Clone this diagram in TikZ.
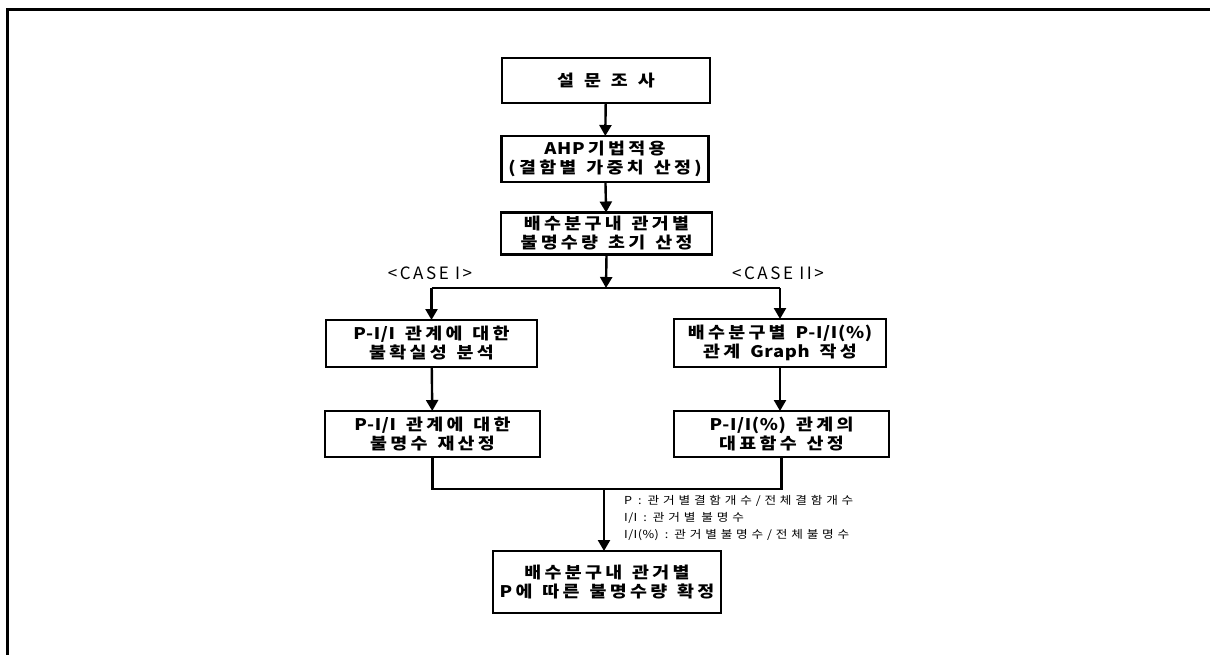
\documentclass[tikz,border=0pt]{standalone}
\usepackage{fontspec}
\setmainfont{Noto Sans CJK KR}
\newfontfamily\boxfnt{Noto Sans CJK KR}[LetterSpace=4, FakeStretch=1.15]
\newfontfamily\legfnt{Noto Sans CJK KR}[LetterSpace=4, FakeStretch=1.15]
\newfontfamily\casefnt{Noto Sans CJK KR}[LetterSpace=15]
\usetikzlibrary{arrows.meta}
% tracking around Hangul syllables: \trkgen{kern}{word space}{text}
\ExplSyntaxOn
\tl_new:N \l__trk_in_tl
\tl_new:N \l__trk_out_tl
\bool_new:N \l__trk_prev_bool
\bool_new:N \l__trk_cur_bool
\bool_new:N \l__trk_first_bool
\cs_new:Npn \trkspace {}
\cs_new_protected:Npn \trkgen #1#2#3
 {
  \tl_set:Nn \l__trk_in_tl {#3}
  \tl_replace_all:Nnn \l__trk_in_tl { ~ } { \trkspace }
  \tl_clear:N \l__trk_out_tl
  \bool_set_true:N \l__trk_first_bool
  \bool_set_false:N \l__trk_prev_bool
  \tl_map_inline:Nn \l__trk_in_tl
   {
    \token_if_eq_meaning:NNTF ##1 \trkspace
     {
      \tl_put_right:Nn \l__trk_out_tl { \hspace*{#2} }
      \bool_set_true:N \l__trk_first_bool
     }
     {
      \bool_set_false:N \l__trk_cur_bool
      \token_if_cs:NF ##1
       {
        \int_compare:nNnT { `##1 } > { 44031 }
         { \int_compare:nNnT { `##1 } < { 55204 } { \bool_set_true:N \l__trk_cur_bool } }
       }
      \bool_if:NF \l__trk_first_bool
       {
        \bool_lazy_or:nnT { \l__trk_prev_bool } { \l__trk_cur_bool }
         { \tl_put_right:Nn \l__trk_out_tl { \kern #1 \relax } }
       }
      \tl_put_right:Nn \l__trk_out_tl {##1}
      \bool_set_false:N \l__trk_first_bool
      \bool_set_eq:NN \l__trk_prev_bool \l__trk_cur_bool
     }
   }
  \l__trk_out_tl
 }
\ExplSyntaxOff
\newcommand\btx[1]{\trkgen{3.3pt}{10pt}{#1}}
\newcommand\legtx[1]{\trkgen{3.8pt}{6pt}{#1}}
\tikzset{
  flowbox/.style={draw, line width=2.6pt, inner sep=0pt, outer sep=0pt, align=center,
    font=\boxfnt\bfseries\fontsize{16}{19}\selectfont},
  conn/.style={line width=2.4pt},
  arr/.style={conn, -{Triangle[length=11pt,width=12pt]}},
  caselbl/.style={font=\casefnt\fontsize{17}{18}\selectfont, inner sep=0pt},
  legend/.style={font=\legfnt\fontsize{11}{17}\selectfont, align=left, anchor=north west, inner sep=0pt},
  frame/.style={line width=3pt}
}
\begin{document}
\begin{tikzpicture}[x=1pt,y=-1pt]
\useasboundingbox (0,0) rectangle (1210,655);
\draw[frame] (7,655) -- (7,10) -- (1210,10);

\node[flowbox, minimum width=208pt, minimum height=45pt] (b1) at (606,80.5) {\btx{설 문 조 사}};
\node[flowbox, minimum width=207pt, minimum height=46pt] (b2) at (605,159) {\btx{AHP기법적용}\\\btx{(결함별 가중치 산정)}};
\node[flowbox, minimum width=211pt, minimum height=42pt] (b3) at (606.5,233.5) {\btx{배수분구내 관거별}\\\btx{불명수량 초기 산정}};
\node[flowbox, minimum width=211pt, minimum height=47pt] (b4) at (431.5,343.5) {\btx{P-I/I 관계에 대한}\\\btx{불확실성 분석}};
\node[flowbox, minimum width=215pt, minimum height=46pt] (b5) at (432.5,434) {\btx{P-I/I 관계에 대한}\\\btx{불명수 재산정}};
\node[flowbox, minimum width=212pt, minimum height=48pt] (b6) at (780,343) {\btx{배수분구별 P-I/I(\%)}\\\btx{관계 Graph 작성}};
\node[flowbox, minimum width=215pt, minimum height=46pt] (b7) at (781.5,434) {\btx{P-I/I(\%) 관계의}\\\btx{대표함수 산정}};
\node[flowbox, minimum width=228pt, minimum height=62pt] (b8) at (607,582) {\btx{배수분구내 관거별}\\\btx{P에 따른 불명수량 확정}};

\node[caselbl] (c1) at (430,273) {<CASE I>};
\node[caselbl] (c2) at (778,273) {<CASE II>};

\node[legend] (leg) at (624,495) {\legtx{P : 관거별결함개수/전체결함개수}\\\legtx{I/I : 관거별 불명수}\\\legtx{I/I(\%) : 관거별불명수/전체불명수}};

\coordinate (j1) at (606,288);
\coordinate (jl) at (b4.north |- j1);
\coordinate (jr) at (b6.north |- j1);
\coordinate (j2) at (604,489);

\draw[arr] (b1) -- (b2);
\draw[arr] (b2) -- (b3);
\draw[arr] (b3.south) -- (j1);
\draw[conn] (jl) -- (jr);
\draw[arr] (jl) -- (b4.north);
\draw[arr] (jr) -- (b6.north);
\draw[arr] (b4) -- (b5);
\draw[arr] (b6.south) -- (b6.south |- b7.north);
\draw[conn] (b5.south) -- (b5.south |- j2) -- (b7.south |- j2) -- (b7.south);
\draw[arr] (j2) -- (j2 |- b8.north);
\end{tikzpicture}
\end{document}
